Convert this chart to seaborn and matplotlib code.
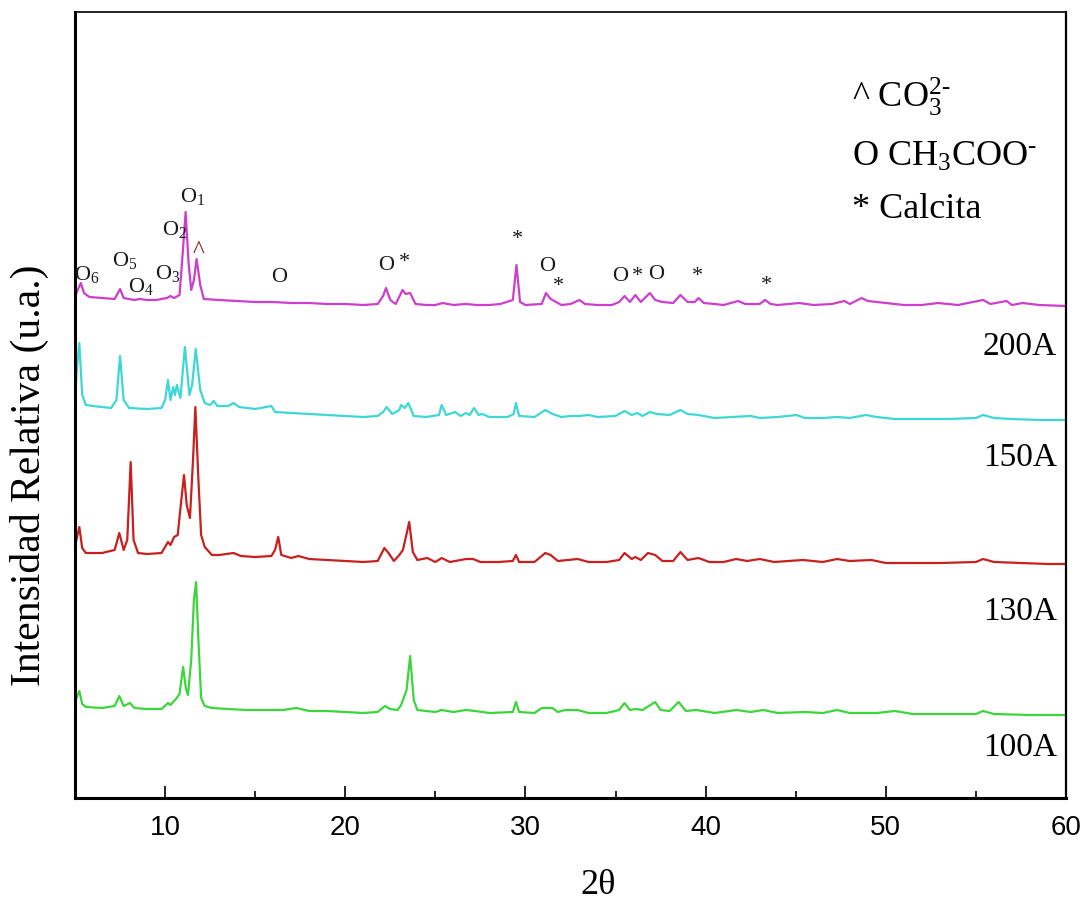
import matplotlib
matplotlib.use("Agg")
import matplotlib.pyplot as plt
import seaborn as sns
import pandas as pd
from matplotlib.ticker import MultipleLocator

sns.set_theme(style="white")
plt.rcParams["font.family"] = ["Liberation Serif", "DejaVu Serif"]
plt.rcParams["mathtext.fontset"] = "custom"
plt.rcParams["mathtext.rm"] = "Liberation Serif"
plt.rcParams["mathtext.it"] = "Liberation Serif:italic"
plt.rcParams["mathtext.bf"] = "Liberation Serif:bold"
plt.rcParams["text.color"] = "black"
plt.rcParams["axes.labelcolor"] = "black"
plt.rcParams["xtick.color"] = "black"

# ---------------- data (2theta, relative intensity, stacked) ----------------
x_200 = [5.0, 5.15, 5.32, 5.5, 5.8, 6.5, 7.2, 7.5, 7.7, 8.3,
         8.6, 9.0, 9.5, 10.1, 10.3, 10.5, 10.8, 10.95, 11.14, 11.3,
         11.45, 11.6, 11.75, 11.95, 12.15, 13.0, 14.0, 15.0, 16.0, 17.0,
         18.0, 19.0, 20.0, 21.0, 21.8, 22.1, 22.26, 22.5, 22.8, 23.18,
         23.35, 23.6, 23.9, 24.5, 25.0, 25.4, 26.0, 26.7, 27.3, 28.0,
         28.6, 29.3, 29.5, 29.7, 30.0, 30.9, 31.14, 31.4, 31.6, 32.0,
         32.5, 33.0, 33.3, 34.0, 34.8, 35.2, 35.5, 35.8, 36.1, 36.4,
         36.9, 37.2, 37.6, 38.2, 38.6, 39.0, 39.4, 39.6, 39.9, 40.5,
         41.0, 41.8, 42.2, 43.0, 43.3, 43.6, 44.0, 45.2, 46.0, 47.0,
         47.7, 48.0, 48.65, 49.0, 50.0, 51.0, 52.0, 52.9, 54.0, 55.4,
         55.8, 56.7, 57.0, 57.6, 58.5, 60.0]
y_200 = [501, 508, 515, 505, 501, 500, 499, 509, 500, 498,
         499, 498, 498, 500, 502, 500, 503, 538, 586, 536,
         508, 518, 539, 513, 499, 498, 497, 496, 496, 495,
         495, 494, 494, 493, 494, 502, 510, 498, 494, 508,
         504, 505, 494, 493, 493, 495, 493, 494, 493, 493,
         494, 498, 533, 496, 493, 494, 505, 499, 497, 493,
         494, 498, 494, 493, 493, 496, 502, 496, 503, 496,
         505, 498, 496, 495, 503, 496, 496, 500, 495, 494,
         493, 497, 494, 494, 498, 494, 493, 495, 493, 494,
         497, 494, 500, 497, 495, 493, 493, 495, 493, 498,
         494, 497, 493, 495, 493, 492]

x_150 = [5.0, 5.1, 5.24, 5.4, 5.6, 6.0, 6.5, 7.0, 7.3, 7.5,
         7.7, 8.0, 9.0, 9.8, 10.0, 10.16, 10.3, 10.45, 10.55, 10.65,
         10.85, 11.1, 11.35, 11.5, 11.7, 11.95, 12.2, 12.5, 12.7, 12.9,
         13.5, 13.8, 14.1, 15.0, 15.9, 16.1, 17.0, 18.0, 19.0, 20.0,
         21.0, 21.8, 22.1, 22.3, 22.6, 23.0, 23.1, 23.3, 23.5, 23.8,
         24.5, 25.2, 25.35, 25.6, 26.1, 26.4, 26.7, 26.9, 27.15, 27.4,
         27.6, 28.0, 29.0, 29.35, 29.47, 29.65, 30.5, 31.1, 31.5, 32.0,
         32.5, 33.0, 33.5, 34.0, 35.0, 35.5, 35.9, 36.2, 36.5, 36.9,
         37.3, 38.0, 38.6, 39.0, 39.6, 40.5, 41.5, 42.5, 43.0, 44.0,
         45.05, 45.5, 46.5, 47.3, 48.0, 48.9, 49.5, 50.5, 52.0, 53.5,
         55.0, 55.4, 56.0, 57.0, 58.5, 60.0]
y_150 = [398, 428, 455, 403, 393, 392, 391, 390, 398, 442,
         398, 390, 389, 390, 398, 418, 398, 411, 403, 413,
         400, 451, 403, 413, 449, 408, 395, 393, 397, 392,
         392, 395, 391, 389, 392, 386, 385, 384, 383, 382,
         381, 382, 386, 391, 384, 388, 393, 390, 395, 382,
         381, 383, 393, 383, 386, 382, 385, 383, 390, 383,
         384, 381, 381, 384, 395, 382, 381, 388, 384, 381,
         382, 382, 383, 381, 382, 387, 383, 385, 382, 386,
         384, 383, 388, 384, 383, 380, 381, 382, 380, 381,
         383, 380, 380, 381, 380, 383, 381, 379, 379, 379,
         380, 383, 380, 379, 378, 378]

x_130 = [5.0, 5.1, 5.24, 5.4, 5.6, 6.5, 7.2, 7.46, 7.7, 7.9,
         8.09, 8.25, 8.5, 9.0, 9.8, 10.16, 10.3, 10.5, 10.7, 10.9,
         11.05, 11.2, 11.38, 11.55, 11.68, 11.85, 12.0, 12.2, 12.6, 13.0,
         13.8, 14.2, 15.0, 15.9, 16.1, 16.28, 16.45, 17.0, 17.4, 18.0,
         19.0, 20.0, 21.0, 21.8, 22.17, 22.4, 22.7, 23.0, 23.2, 23.55,
         23.75, 24.0, 24.55, 25.0, 25.35, 25.8, 26.7, 27.1, 27.5, 28.5,
         29.3, 29.47, 29.65, 30.5, 31.1, 31.4, 31.8, 32.9, 33.5, 34.5,
         35.2, 35.5, 35.9, 36.1, 36.4, 36.8, 37.2, 37.6, 38.2, 38.6,
         39.0, 39.6, 40.2, 41.0, 41.7, 42.3, 43.0, 43.8, 45.4, 46.5,
         47.3, 48.0, 49.2, 50.0, 51.5, 53.0, 55.0, 55.4, 56.0, 57.5,
         59.0, 60.0]
y_130 = [251, 260, 271, 250, 245, 245, 248, 265, 248, 258,
         336, 258, 245, 244, 245, 256, 253, 261, 263, 298,
         323, 293, 280, 338, 391, 318, 263, 251, 243, 243,
         245, 242, 241, 242, 248, 261, 243, 240, 242, 239,
         238, 237, 236, 237, 250, 245, 237, 243, 248, 276,
         246, 238, 240, 236, 240, 236, 239, 239, 236, 236,
         237, 243, 236, 236, 245, 243, 237, 239, 236, 236,
         238, 245, 239, 241, 238, 245, 243, 237, 237, 246,
         238, 240, 236, 236, 239, 237, 239, 236, 238, 236,
         239, 237, 238, 235, 235, 235, 236, 239, 236, 235,
         234, 234]

x_100 = [5.0, 5.1, 5.24, 5.4, 5.6, 6.5, 7.2, 7.46, 7.7, 8.05,
         8.3, 9.0, 9.8, 10.16, 10.3, 10.6, 10.8, 11.0, 11.15, 11.27,
         11.45, 11.6, 11.72, 11.85, 12.0, 12.2, 12.6, 13.5, 14.5, 15.5,
         16.5, 17.3, 18.0, 19.0, 20.0, 21.0, 21.8, 22.2, 22.5, 22.9,
         23.1, 23.4, 23.6, 23.8, 24.0, 25.0, 25.35, 26.0, 26.7, 27.2,
         28.0, 29.3, 29.47, 29.65, 30.5, 30.9, 31.2, 31.5, 31.8, 32.2,
         32.9, 33.5, 34.5, 35.2, 35.5, 35.8, 36.1, 36.5, 37.2, 37.5,
         38.0, 38.5, 38.9, 39.5, 40.5, 41.7, 42.5, 43.2, 44.0, 45.5,
         46.5, 47.3, 48.0, 49.5, 50.5, 51.5, 53.0, 55.0, 55.4, 56.0,
         58.0, 60.0]
y_100 = [95, 101, 107, 94, 91, 90, 92, 102, 92, 95,
         90, 89, 89, 95, 93, 99, 104, 131, 110, 103,
         138, 198, 216, 158, 100, 92, 90, 89, 88, 88,
         88, 90, 87, 87, 86, 85, 86, 92, 89, 88,
         93, 108, 142, 98, 88, 86, 88, 86, 88, 87,
         85, 86, 96, 86, 85, 90, 90, 90, 86, 88,
         88, 85, 85, 88, 95, 88, 89, 88, 96, 88,
         87, 96, 87, 88, 85, 88, 86, 88, 85, 86,
         85, 88, 85, 85, 87, 84, 84, 84, 87, 84,
         83, 83]

muestras = ["200A", "150A", "130A", "100A"]
colores = ["#cc3fcc", "#3fd6d6", "#c8201e", "#3cd63c"]
x_ticks = [10, 20, 30, 40, 50, 60]

frames = []
for name, xs, ys in zip(muestras, [x_200, x_150, x_130, x_100],
                        [y_200, y_150, y_130, y_100]):
    frames.append(pd.DataFrame({"2θ": xs, "I": ys, "muestra": name}))
df = pd.concat(frames, ignore_index=True)

# ---------------- figure ----------------
W, H = 1089, 919
fig = plt.figure(figsize=(W / 100, H / 100), dpi=100)
ax = fig.add_axes([75 / W, (H - 798) / H, (1066 - 75) / W, (798 - 12) / H])

sns.lineplot(data=df, x="2θ", y="I", hue="muestra", hue_order=muestras,
             palette=dict(zip(muestras, colores)), estimator=None, sort=False,
             linewidth=1.6, legend=False, ax=ax)

ax.set_xlim(5, 60)
ax.set_ylim(0, 786)
ax.set_xticks(x_ticks)
ax.xaxis.set_minor_locator(MultipleLocator(5))
ax.set_yticks([])

for lab in ax.get_xticklabels():
    lab.set_fontfamily("Liberation Sans")
    lab.set_fontsize(20)
ax.tick_params(axis="x", which="major", direction="in", length=9, width=1.2,
               pad=12, colors="black", bottom=True)
ax.tick_params(axis="x", which="minor", direction="in", length=5, width=1.2,
               bottom=True)

for side, lw in [("bottom", 2.2), ("left", 2.2), ("top", 1.2), ("right", 1.6)]:
    ax.spines[side].set_visible(True)
    ax.spines[side].set_linewidth(lw)
    ax.spines[side].set_color("black")

ax.set_xlabel("2θ", fontsize=26)
ax.xaxis.set_label_coords(0.528, -0.09)
ax.set_ylabel("Intensidad Relativa (u.a.)", fontsize=30)
ax.yaxis.set_label_coords(-0.026, 0.41)

# peak annotations
ann = [
    (r"O$_6$", 5.64, 523), (r"O$_5$", 7.78, 537), (r"O$_4$", 8.66, 511),
    (r"O$_3$", 10.16, 524), (r"O$_2$", 10.5, 568), (r"O$_1$", 11.5, 601),
    ("O", 16.32, 520), ("O", 22.26, 532), ("*", 23.26, 535),
    ("*", 29.57, 558), ("O", 31.23, 531), ("*", 31.86, 511),
    ("O", 35.24, 521), ("*", 36.23, 521), ("O", 37.24, 523),
    ("*", 39.57, 521), ("*", 43.35, 512),
]
for txt, xx, yy in ann:
    ax.text(xx, yy, txt, fontsize=16, ha="center", va="center", color="#1a1a1a")
ax.text(11.88, 546, "^", fontsize=18, ha="center", va="center", color="#8b1a1a")

# composition legend text
ax.text(48.1, 691, "^ CO$_3^{2\u2010}$", fontsize=26, ha="left", va="baseline")
ax.text(48.1, 632, "O CH$_3$COO$^{\u2010}$", fontsize=26, ha="left", va="baseline")
ax.text(48.1, 580, "* Calcita", fontsize=26, ha="left", va="baseline")

# sample labels
for name, yy in zip(muestras, [451, 340, 186, 50]):
    ax.text(59.5, yy, name, fontsize=24, ha="right", va="center")

fig.savefig("out.png", dpi=100)
